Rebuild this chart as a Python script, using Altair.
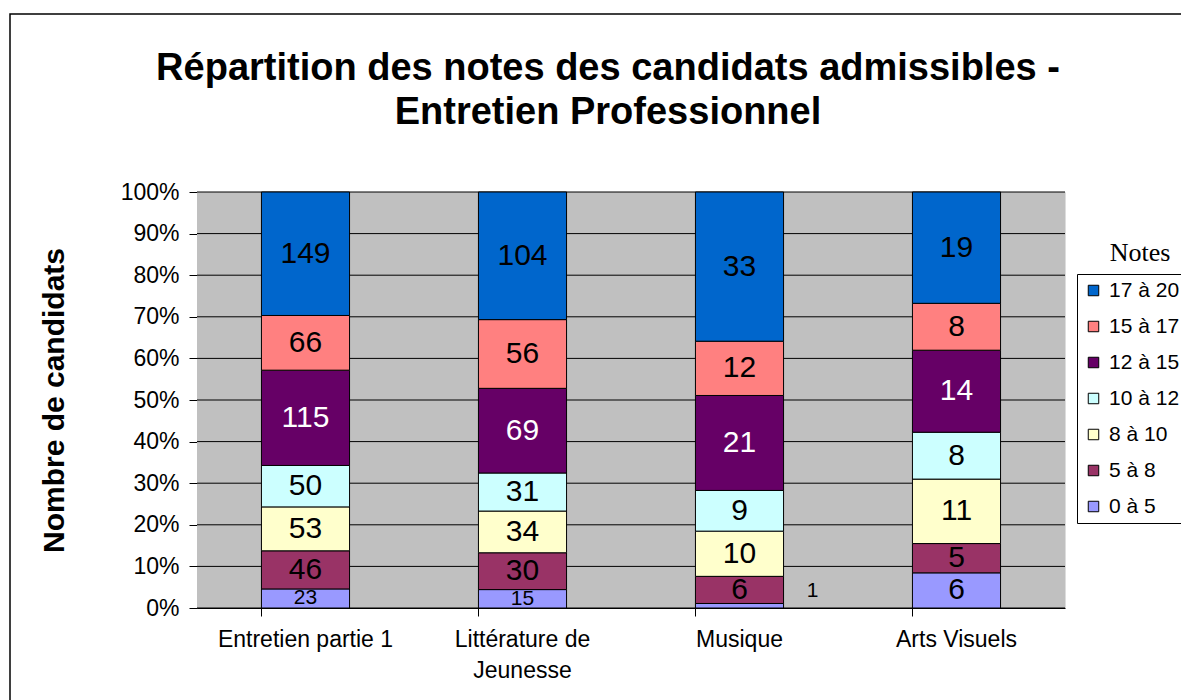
import altair as alt
import pandas as pd

# ---- data ----
categories = ["Entretien partie 1", "Littérature de Jeunesse", "Musique", "Arts Visuels"]
notes = ["0 à 5", "5 à 8", "8 à 10", "10 à 12", "12 à 15", "15 à 17", "17 à 20"]  # bottom -> top
entretien = [23, 46, 53, 50, 115, 66, 149]
litterature = [15, 30, 34, 31, 69, 56, 104]
musique = [1, 6, 10, 9, 21, 12, 33]
arts = [6, 5, 11, 8, 14, 8, 19]
colors = ["#9999FF", "#993366", "#FFFFCC", "#CCFFFF", "#660066", "#FF8080", "#0066CC"]
y_ticks = [0, 0.1, 0.2, 0.3, 0.4, 0.5, 0.6, 0.7, 0.8, 0.9, 1.0]
title_lines = ["Répartition des notes des candidats admissibles -", "Entretien Professionnel"]
y_title = "Nombre de candidats"
legend_title = "Notes"

series = [entretien, litterature, musique, arts]
rows = []
for cat, vals in zip(categories, series):
    for i, (n, v) in enumerate(zip(notes, vals)):
        rows.append({"cat": cat, "note": n, "idx": i, "count": v})
df = pd.DataFrame(rows)

FONT = "Liberation Sans"
W, H = 868, 416

base = alt.Chart(df).transform_joinaggregate(
    total="sum(count)", groupby=["cat"]
).transform_window(
    cum="sum(count)", groupby=["cat"], sort=[alt.SortField("idx")], frame=[None, 0]
).transform_calculate(
    y0="(datum.cum - datum.count) / datum.total",
    y1="datum.cum / datum.total",
    mid="(datum.cum - datum.count / 2) / datum.total",
    frac="datum.count / datum.total",
)

xenc = alt.X(
    "cat:N",
    sort=categories,
    scale=alt.Scale(paddingInner=0.594, paddingOuter=0.297),
    axis=alt.Axis(
        title=None,
        labelAngle=0,
        labelFontSize=23,
        labelFont=FONT,
        labelColor="black",
        labelPadding=12,
        labelLineHeight=31,
        labelExpr="datum.value == 'Littérature de Jeunesse' ? ['Littérature de', 'Jeunesse'] : datum.label",
        bandPosition=0,
        tickSize=8,
        tickColor="black",
        domainColor="black",
        grid=False,
    ),
)

yscale = alt.Scale(domain=[0, 1], nice=False)
yaxis = alt.Axis(
    values=y_ticks,
    format=".0%",
    title=y_title,
    titleFont=FONT,
    titleFontSize=30,
    titleFontWeight="bold",
    titleColor="black",
    titleAngle=270,
    titleX=-143,
    titleY=208,
    titleAlign="center",
    titleBaseline="middle",
    labelFont=FONT,
    labelFontSize=23,
    labelColor="black",
    labelPadding=10,
    tickSize=8,
    tickColor="black",
    domainColor="black",
    grid=False,
)

bars = base.mark_bar(stroke="black", strokeWidth=1).encode(
    x=xenc,
    y=alt.Y("y0:Q", scale=yscale, axis=yaxis),
    y2="y1:Q",
    color=alt.Color(
        "note:N",
        scale=alt.Scale(domain=notes[::-1], range=colors[::-1]),
        legend=alt.Legend(
            title=None,
            orient="none",
            legendX=880,
            legendY=82,
            direction="vertical",
            strokeColor="black",
            fillColor="white",
            padding=6,
            symbolType="square",
            symbolSize=110,
            symbolStrokeColor="black",
            symbolStrokeWidth=1,
            symbolOpacity=1,
            labelFont=FONT,
            labelFontSize=21,
            labelColor="black",
            labelOffset=5,
            rowPadding=14,
        ),
    ),
)

labels = base.transform_filter("datum.frac >= 0.02").mark_text(
    font=FONT, align="center", baseline="middle"
).encode(
    x=alt.X("cat:N", sort=categories),
    y=alt.Y("mid:Q", scale=yscale, axis=yaxis),
    text="count:Q",
    size=alt.Size(
        "frac:Q",
        scale=alt.Scale(type="threshold", domain=[0.06], range=[21, 30]),
        legend=None,
    ),
    color=alt.condition(alt.datum.note == "12 à 15", alt.value("white"), alt.value("black")),
)

tiny = base.transform_filter("datum.frac < 0.02").mark_text(
    font=FONT, align="center", baseline="middle", fontSize=21, dx=73, dy=-15, color="black"
).encode(
    x=alt.X("cat:N", sort=categories),
    y=alt.Y("mid:Q", scale=yscale, axis=yaxis),
    text="count:Q",
)

grid = alt.Chart(pd.DataFrame({"t": y_ticks})).mark_rule(color="black", strokeWidth=1).encode(
    y=alt.Y("t:Q", scale=yscale, axis=yaxis)
)

one = pd.DataFrame({"t": [legend_title]})
plot_bg = alt.Chart(one).mark_rect(color="#C0C0C0").encode(
    x=alt.value(0), x2=alt.value(W), y=alt.value(0), y2=alt.value(H)
)

legend_head = alt.Chart(one).mark_text(
    font="Liberation Serif", fontSize=26, align="center", baseline="middle", color="black"
).encode(x=alt.value(943), y=alt.value(61), text="t:N")

title_layers = []
for k, line in enumerate(title_lines):
    tdf = pd.DataFrame({"line": [line]})
    title_layers.append(
        alt.Chart(tdf).mark_text(
            font=FONT, fontSize=38, fontWeight="bold", align="center",
            baseline="alphabetic", color="black"
        ).encode(x=alt.value(411), y=alt.value(-112 + 44 * k), text="line:N")
    )

frame = alt.Chart(one).mark_rect(
    fillOpacity=0, stroke="black", strokeWidth=1.5
).encode(x=alt.value(-187), y=alt.value(-178), x2=alt.value(1300), y2=alt.value(800))

chart = alt.layer(
    frame, plot_bg, grid, bars, labels, tiny, legend_head, *title_layers
).properties(
    width=W,
    height=H,
    autosize=alt.AutoSizeParams(type="none"),
    padding={"left": 189, "top": 184, "right": 116, "bottom": 92},
).configure_view(strokeOpacity=0).configure(background="white")

chart.save("out.html", embed_options={"renderer": "svg", "actions": False})
